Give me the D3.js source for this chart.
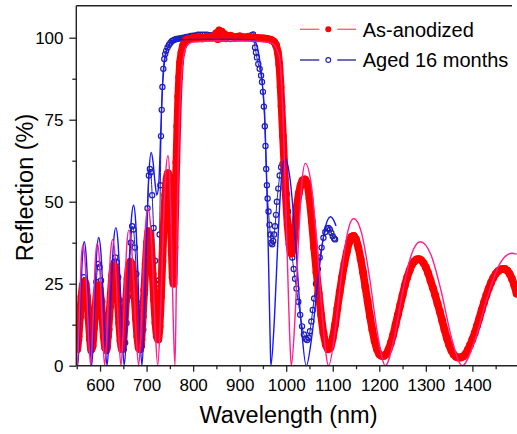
<!DOCTYPE html>
<html><head><meta charset="utf-8">
<script src="https://cdn.jsdelivr.net/npm/d3@7"></script>
<style>body{margin:0;background:#fff}svg{display:block}</style>
</head><body><svg id="c" width="517" height="434"></svg>
<script>
const xTicks = [600,700,800,900,1000,1100,1200,1300,1400];
const xMinorTicks = [550,650,750,850,950,1050,1150,1250,1350,1450];
const yTicks = [0,25,50,75,100];
const yMinorTicks = [12.5,37.5,62.5,87.5];
const seriesNames = ["As-anodized","Aged 16 months"];
const axisTitles = ["Wavelength (nm)","Reflection (%)"];

// [wavelength nm, reflection %]
const asAnodizedMeasured = [[549,7],[551,5],[554,9],[557,15],[560,21],[563,24.5],[566,25.5],[569,25],[572,21],[575,15],[578,9],[581,5],[584,6],[587,11.5],[590,17.5],[593,22.5],[596,24.5],[599,23.5],[602,20],[605,14.5],[608,9],[611,5.5],[614,5],[617,9],[620,15],[623,22],[626,27.5],[629,30.5],[632,30],[635,26.5],[638,20],[641,13],[644,7.5],[647,5],[650,7],[653,13],[656,20],[659,26.5],[662,30.5],[665,31.7],[668,31],[671,27.5],[674,21.5],[677,14.5],[680,9],[683,5.5],[686,5],[689,8],[692,15],[695,23],[698,31],[701,37.5],[704,41],[707,40],[710,35.5],[713,28],[716,20],[719,13],[722,9],[725,8],[728,12],[731,21],[734,32],[737,43],[740,52],[743,57],[746,58.7],[749,55],[752,44],[754,35],[756,27],[758,25],[760,36],[762,50],[764,62],[766,73],[768,82],[770,88],[772,92.5],[775,95.5],[778,97.5],[782,98.8],[786,99.4],[790,99.6],[800,99.9],[810,100.2],[820,99.8],[830,100.3],[840,100.1],[845,100.6],[850,101.4],[853,99.6],[856,102.2],[859,100.2],[862,101.8],[865,99.9],[868,101],[872,100.4],[880,100.6],[890,100.2],[900,100.4],[910,100.1],[920,100.3],[930,100],[940,99.9],[950,99.8],[960,99.6],[968,99.3],[974,98.7],[978,97.8],[982,95.5],[985,92],[988,85],[990,79],[993,70],[996,61],[999,52],[1003,43],[1007,37],[1011,34.2],[1015,36],[1019,42],[1023,48.5],[1027,52.5],[1031,55],[1035,56.5],[1040,56.8],[1045,55.5],[1050,51],[1055,44],[1060,36],[1065,28.5],[1070,22],[1075,15.5],[1080,10],[1085,6.5],[1090,5],[1095,5.5],[1100,8.5],[1105,12.5],[1110,17.5],[1115,22.5],[1120,27],[1125,31],[1130,34.5],[1135,37.5],[1140,39.3],[1145,39.6],[1150,38.5],[1155,36],[1160,32.5],[1165,28.5],[1170,24],[1175,19.5],[1180,15],[1185,11],[1190,7.5],[1195,5],[1200,3.5],[1205,3],[1210,3],[1215,3.5],[1220,5],[1225,7],[1230,9.5],[1235,12.5],[1240,15.5],[1245,18.5],[1250,21.5],[1255,24.5],[1260,27],[1265,29],[1270,30.8],[1275,31.8],[1280,32.4],[1285,32.5],[1290,32.2],[1295,31.3],[1300,30],[1305,28.2],[1310,26],[1315,23.8],[1320,21.5],[1325,19],[1330,16.5],[1335,13.8],[1340,11],[1345,8.5],[1350,6.3],[1355,4.6],[1360,3.4],[1365,2.7],[1370,2.5],[1375,2.5],[1380,2.8],[1385,3.5],[1390,4.8],[1395,6.3],[1400,8],[1405,10],[1410,12.2],[1415,14.5],[1420,17],[1425,19.3],[1430,21.5],[1435,23.5],[1440,25.3],[1445,26.8],[1450,28],[1455,28.8],[1460,29.3],[1465,29.5],[1470,29.5],[1475,29],[1480,28],[1485,26.5],[1490,24.5],[1495,22]];

const asAnodizedSimulated = [[549,2],[551,0],[554,8.1],[557,22.1],[560,33.1],[563,36.8],[567.25,33.1],[571.5,22.1],[575.75,8.1],[580,0],[583.5,8.2],[587,22.4],[590.5,33.6],[594,37.3],[598,33.6],[602,22.4],[606,8.2],[610,0],[614.25,8.5],[618.5,23.1],[622.75,34.7],[627,38.5],[631.5,34.7],[636,23.1],[640.5,8.5],[645,0],[649.25,9.1],[653.5,24.8],[657.75,37.3],[662,41.4],[667.25,37.3],[672.5,24.8],[677.75,9.1],[683,0],[688,10.6],[693,28.8],[698,43.2],[703,48],[708.25,43.2],[713.5,28.8],[718.75,10.6],[724,0],[729.5,14.1],[735,38.4],[740.5,57.6],[746,64],[749.75,57.6],[753.5,38.4],[757.25,14.1],[761,0],[764,25],[767,55],[770,74],[774,86],[778,93],[783,96.5],[790,98],[800,98.7],[850,99],[900,99],[950,98.8],[970,98.3],[976,97.5],[981,96],[986,93.5],[990,86],[995,68],[1000,45],[1005,20],[1009,4],[1011,0],[1018.5,13.6],[1026,37],[1033.5,55.5],[1041,61.7],[1053.5,55.5],[1066,37],[1078.5,13.6],[1091,0],[1104.5,9.9],[1118,26.9],[1131.5,40.4],[1145,44.9],[1162,40.4],[1179,26.9],[1196,9.9],[1213,0],[1231.75,8.3],[1250.5,22.7],[1269.25,34],[1288,37.8],[1310.5,34],[1333,22.7],[1355.5,8.3],[1378,0],[1404.75,7.5],[1431.5,20.6],[1458.25,30.9],[1485,34.3],[1495,34]];

const agedMeasured = [[549,8],[552,5],[555,8],[558,15],[561,22],[565,27],[568,26],[571,21],[574,14],[577,8],[580,4.5],[583,5],[586,10],[589,18],[592,25.5],[596,31],[599,30],[602,26],[605,19.5],[608,12.5],[611,7],[614,4.5],[617,6],[620,11],[623,18],[626,25],[630,31.5],[633,33],[636,31.5],[639,27],[642,20],[645,13],[648,7.5],[651,5],[654,7],[657,13],[660,21],[663,29.5],[666,37.5],[669,42.5],[672,41.5],[675,36],[678,28],[681,19],[684,11],[687,6.5],[690,6],[693,11],[696,22],[699,35],[702,48],[705,58],[707,60],[709,59],[712,52],[715,42],[718,32],[721,25],[724,22],[726,26],[728,40],[729.5,55],[731,70],[732.5,78],[734,85],[736,90.5],[738,93.5],[740,95],[742,96],[745,97],[748,97.8],[751,98.4],[754,98.9],[757,99.2],[760,99.4],[764,99.6],[768,99.7],[772,99.8],[776,99.9],[780,100],[785,100.2],[790,100.3],[795,100.5],[800,100.6],[805,100.7],[810,100.9],[815,100.9],[820,100.9],[825,100.9],[830,100.9],[835,100.8],[840,100.7],[850,100],[860,99.7],[870,99.6],[880,99.6],[890,99.7],[900,99.8],[910,99.9],[920,100.3],[926,100.8],[929,101],[931,99.5],[933,97],[935,95.5],[937,94],[940,92],[943,90.5],[946,88.5],[948,86.5],[950,83.5],[952,79],[954,73],[955.5,67],[957,60],[958.5,55],[960,51],[962,47],[964,43],[966,40],[968,37.5],[970,37],[972,38],[974,40],[976,42.5],[978,46],[980,50],[983,54],[986,58],[989,60.5],[992,61.5],[995,60],[998,57],[1001,52.5],[1004,47],[1007,42],[1010,37],[1013,33],[1016,29.5],[1019,26.5],[1022,23.5],[1026,19.5],[1030,15.5],[1034,12],[1038,9.5],[1042,8.2],[1045,7.8],[1048,8.5],[1051,10.5],[1054,13.5],[1057,17],[1060,20.5],[1064,25],[1068,29.5],[1072,33],[1076,36],[1080,39],[1084,40.8],[1088,41.8],[1091,42],[1094,41.5],[1097,40.5],[1100,39.5],[1103,38.8],[1105,38.5]];

const agedSimulated = [[549,3],[552,0],[555.5,8.3],[559,22.7],[562.5,34],[566,37.8],[570,34],[574,22.7],[578,8.3],[582,0],[585.75,8.6],[589.5,23.5],[593.25,35.2],[597,39.1],[601.5,35.2],[606,23.5],[610.5,8.6],[615,0],[619.75,9.3],[624.5,25.3],[629.25,37.9],[634,42.1],[638.5,37.9],[643,25.3],[647.5,9.3],[652,0],[657,10.8],[662,29.3],[667,44],[672,48.9],[676.5,44],[681,29.3],[685.5,10.8],[690,0],[695,14.3],[700,39],[705,58.5],[710,65],[714,62],[718,56],[722,52],[726,55],[729,65],[732,78],[735,87],[738,92],[742,95.5],[748,97.8],[755,98.8],[765,99.3],[800,99.5],[900,99.5],[930,99.3],[936,98],[941,95],[945,91],[950,84],[954,76],[957,62],[960,45],[963,25],[965.5,8],[967,0],[974.5,13.9],[982,37.8],[989.5,56.7],[997,63],[1008.5,56.7],[1020,37.8],[1031.5,13.9],[1043,0],[1056,10],[1069,27.2],[1082,40.9],[1095,45.4],[1101,44.6],[1107,42.6]];

const FONT = "'Liberation Sans', Arial, Helvetica, sans-serif";
const RED = "#ff0000", PINK = "#ff1f8f", NAVY = "#1f1fb0", BLUE = "#1616ff", AXIS = "#222";

const svg = d3.select("#c");
const X0 = 76.3, X1 = 517, Y0 = 365.7, Y1 = 5.7;
const x = d3.scaleLinear().domain([549, 1495]).range([X0, 516.6]);
const y = d3.scaleLinear().domain([0, 109.76]).range([Y0, Y1]);

svg.append("defs").append("clipPath").attr("id","clip")
  .append("rect").attr("x",X0).attr("y",Y1).attr("width",X1-X0).attr("height",Y0-Y1+0.7);

const plot = svg.append("g").attr("clip-path","url(#clip)");
const line = d3.line().x(d=>x(d[0])).y(d=>y(d[1])).curve(d3.curveMonotoneX);

// aged measured: open circles with thin line
plot.append("path").datum(agedMeasured).attr("d",line)
  .attr("fill","none").attr("stroke",NAVY).attr("stroke-width",1);
plot.append("g").selectAll("circle").data(agedMeasured).join("circle")
  .attr("cx",d=>x(d[0])).attr("cy",d=>y(d[1])).attr("r",2.6)
  .attr("fill","none").attr("stroke",NAVY).attr("stroke-width",1.2);

// as-anodized measured: dense filled red dots
plot.append("path").datum(asAnodizedMeasured).attr("d",line)
  .attr("fill","none").attr("stroke",RED).attr("stroke-width",7.6)
  .attr("stroke-linejoin","round").attr("stroke-linecap","round");
plot.append("g").selectAll("circle").data(asAnodizedMeasured).join("circle")
  .attr("cx",d=>x(d[0])).attr("cy",d=>y(d[1])).attr("r",3.9).attr("fill",RED);

// simulations
plot.append("path").datum(agedSimulated).attr("d",line)
  .attr("fill","none").attr("stroke",BLUE).attr("stroke-width",1.4);
plot.append("path").datum(asAnodizedSimulated).attr("d",line)
  .attr("fill","none").attr("stroke",PINK).attr("stroke-width",1.4);

// axes
function styleAxis(g){
  g.attr("font-family",FONT).attr("font-size",17).attr("color",AXIS);
  g.select(".domain").remove();
  g.selectAll(".tick line").attr("stroke-width",1.3);
  g.selectAll(".tick text").attr("fill","#000");
}
svg.append("g").attr("transform",`translate(0,${Y0})`)
  .call(d3.axisBottom(x).tickValues(xTicks).tickFormat(d3.format("d")).tickSize(6).tickPadding(7.7).tickSizeOuter(0))
  .call(styleAxis);
svg.append("g").attr("transform",`translate(0,${Y0})`)
  .call(d3.axisBottom(x).tickValues(xMinorTicks).tickSize(3.5).tickFormat(""))
  .call(styleAxis);
svg.append("g").attr("transform",`translate(${X0},0)`)
  .call(d3.axisLeft(y).tickValues(yTicks).tickFormat(d3.format("d")).tickSize(7).tickPadding(5.8).tickSizeOuter(0))
  .call(styleAxis);
svg.append("g").attr("transform",`translate(${X0},0)`)
  .call(d3.axisLeft(y).tickValues(yMinorTicks).tickSize(4).tickFormat(""))
  .call(styleAxis);

svg.append("line").attr("x1",X0).attr("x2",X1).attr("y1",Y0).attr("y2",Y0)
  .attr("stroke",AXIS).attr("stroke-width",1.4);
svg.append("line").attr("x1",X0).attr("x2",X0).attr("y1",Y1).attr("y2",Y0)
  .attr("stroke",AXIS).attr("stroke-width",1.4);
svg.append("line").attr("x1",X0).attr("x2",512).attr("y1",Y1).attr("y2",Y1)
  .attr("stroke",AXIS).attr("stroke-width",1.4);

// titles
svg.append("text").attr("x",288.5).attr("y",423).attr("text-anchor","middle")
  .attr("font-family",FONT).attr("font-size",23.5).text(axisTitles[0]);
svg.append("text").attr("transform","translate(32.5,187.5) rotate(-90)").attr("text-anchor","middle")
  .attr("font-family",FONT).attr("font-size",23.5).text(axisTitles[1]);

// legend
const leg = svg.append("g");
const legRows = [
  {name: seriesNames[0], y: 29.3, color: "#ff5a64", fill: RED, r: 3, stroke: "none"},
  {name: seriesNames[1], y: 60, color: "#20208e", fill: "none", r: 2.4, stroke: NAVY}
];
legRows.forEach(r => {
  leg.append("line").attr("x1",300).attr("x2",319.3).attr("y1",r.y).attr("y2",r.y).attr("stroke",r.color).attr("stroke-width",1.3);
  leg.append("line").attr("x1",337.3).attr("x2",356).attr("y1",r.y).attr("y2",r.y).attr("stroke",r.color).attr("stroke-width",1.3);
  leg.append("circle").attr("cx",328.3).attr("cy",r.y).attr("r",r.r).attr("fill",r.fill)
    .attr("stroke",r.stroke).attr("stroke-width",1.1);
  leg.append("text").attr("x",362.7).attr("y",r.y+7.2).attr("font-family",FONT).attr("font-size",20).text(r.name);
});
</script></body></html>
